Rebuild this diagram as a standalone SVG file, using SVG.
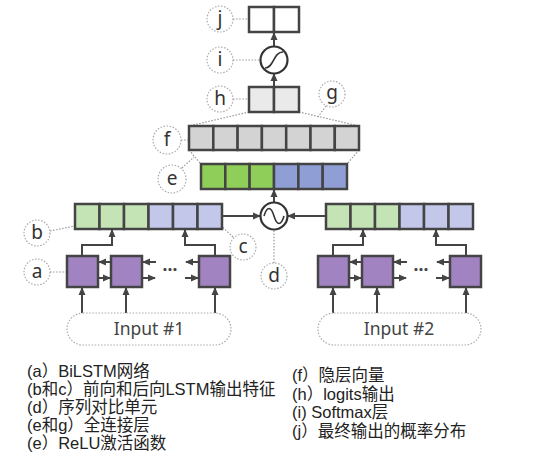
<svg xmlns="http://www.w3.org/2000/svg" width="554" height="457" viewBox="0 0 554 457">
<style>
.cell{stroke:#444;stroke-width:2.5}
.g1{fill:#c4e4b6}.b1{fill:#c3c8ea}
.g2{fill:#8fce58}.b2{fill:#8f9fd6}
.gray{fill:#d3d3d3}.lg{fill:#eaeaea}.w{fill:#fff}
.pur{fill:#a283c2;stroke:#444;stroke-width:2.5}
.con{stroke:#444;stroke-width:2;fill:none}
.lead{stroke:#999;stroke-width:1.2;stroke-dasharray:1.5 1.6;fill:none}
.lc{fill:#fff;stroke:#aaa;stroke-width:1.2;stroke-dasharray:1.5 1.6}
.lt{font-family:"Noto Sans","Liberation Sans",sans-serif;font-size:19px;fill:#333;text-anchor:middle}
.it{font-family:"Noto Sans","Liberation Sans",sans-serif;font-size:17.5px;fill:#444;text-anchor:middle}
.leg{font-family:"Liberation Sans","Noto Sans CJK SC",sans-serif;font-size:16.5px;fill:#222}
</style>
<defs>
<marker id="ah" markerUnits="userSpaceOnUse" markerWidth="8" markerHeight="8" refX="7" refY="4" orient="auto">
<path d="M0,0.5 L8,4 L0,7.5 z" fill="#444"/>
</marker>
</defs>

<g id="connectors">
<line class="con" x1="274" y1="46" x2="274" y2="33" marker-end="url(#ah)"/>
<line class="con" x1="274" y1="99" x2="274" y2="74" marker-end="url(#ah)"/>
<line class="con" x1="274" y1="203" x2="274" y2="190" marker-end="url(#ah)"/>
<line class="con" x1="222" y1="216" x2="260" y2="216" marker-end="url(#ah)"/>
<line class="con" x1="326" y1="216" x2="288" y2="216" marker-end="url(#ah)"/>
<polyline class="con" points="82,255 82,245 112,245 112,230" marker-end="url(#ah)"/>
<polyline class="con" points="215,255 215,245 185,245 185,230" marker-end="url(#ah)"/>
<polyline class="con" points="333,255 333,245 363,245 363,230" marker-end="url(#ah)"/>
<polyline class="con" points="466,255 466,245 436,245 436,230" marker-end="url(#ah)"/>
<line class="con" x1="82" y1="313" x2="82" y2="288" marker-end="url(#ah)"/>
<line class="con" x1="126" y1="313" x2="126" y2="288" marker-end="url(#ah)"/>
<line class="con" x1="215" y1="313" x2="215" y2="288" marker-end="url(#ah)"/>
<line class="con" x1="333" y1="313" x2="333" y2="288" marker-end="url(#ah)"/>
<line class="con" x1="377" y1="313" x2="377" y2="288" marker-end="url(#ah)"/>
<line class="con" x1="466" y1="313" x2="466" y2="288" marker-end="url(#ah)"/>
<line class="con" x1="111" y1="262" x2="99" y2="262" marker-end="url(#ah)"/>
<line class="con" x1="98" y1="278" x2="110" y2="278" marker-end="url(#ah)"/>
<line class="con" x1="156" y1="262" x2="143" y2="262" marker-end="url(#ah)"/>
<line class="con" x1="142" y1="278" x2="155" y2="278" marker-end="url(#ah)"/>
<line class="con" x1="199" y1="262" x2="186" y2="262" marker-end="url(#ah)"/>
<line class="con" x1="185" y1="278" x2="198" y2="278" marker-end="url(#ah)"/>
<line class="con" x1="362" y1="262" x2="350" y2="262" marker-end="url(#ah)"/>
<line class="con" x1="349" y1="278" x2="361" y2="278" marker-end="url(#ah)"/>
<line class="con" x1="407" y1="262" x2="394" y2="262" marker-end="url(#ah)"/>
<line class="con" x1="393" y1="278" x2="406" y2="278" marker-end="url(#ah)"/>
<line class="con" x1="450" y1="262" x2="437" y2="262" marker-end="url(#ah)"/>
<line class="con" x1="436" y1="278" x2="449" y2="278" marker-end="url(#ah)"/>
<line class="lead" x1="249" y1="112" x2="189" y2="126"/>
<line class="lead" x1="299" y1="112" x2="359" y2="126"/>
<line class="lead" x1="189" y1="150" x2="201" y2="164"/>
<line class="lead" x1="359" y1="150" x2="347" y2="164"/>
<line class="lead" x1="233" y1="19" x2="249" y2="19"/>
<line class="lead" x1="233" y1="60" x2="260" y2="60"/>
<line class="lead" x1="233" y1="99" x2="249" y2="99"/>
<line class="lead" x1="326" y1="106" x2="318" y2="117"/>
<line class="lead" x1="181" y1="140" x2="189" y2="140"/>
<line class="lead" x1="182" y1="168" x2="194" y2="157"/>
<line class="lead" x1="50" y1="231" x2="80" y2="225"/>
<line class="lead" x1="233" y1="237" x2="218" y2="223"/>
<line class="lead" x1="50" y1="272" x2="67" y2="272"/>
<line class="lead" x1="274" y1="263" x2="274" y2="229"/>
</g>

<g id="node-j">
<rect class="cell w" x="249" y="7" width="25" height="25"/>
<rect class="cell w" x="274" y="7" width="25" height="25"/>
</g>
<g id="node-sigmoid">
<circle cx="274" cy="60" r="13.5" fill="#fff" stroke="#333" stroke-width="2.2"/>
<path d="M265,68 C274,68 273,52 283,52" fill="none" stroke="#333" stroke-width="1.6"/>
</g>
<g id="node-h">
<rect class="cell lg" x="249" y="87" width="25" height="25"/>
<rect class="cell lg" x="274" y="87" width="25" height="25"/>
<line class="con" x1="274" y1="112" x2="274" y2="99"/>
</g>
<g id="node-f">
<rect class="cell gray" x="189" y="126" width="24.3" height="24"/>
<rect class="cell gray" x="213.3" y="126" width="24.3" height="24"/>
<rect class="cell gray" x="237.6" y="126" width="24.3" height="24"/>
<rect class="cell gray" x="261.9" y="126" width="24.3" height="24"/>
<rect class="cell gray" x="286.2" y="126" width="24.3" height="24"/>
<rect class="cell gray" x="310.5" y="126" width="24.3" height="24"/>
<rect class="cell gray" x="334.8" y="126" width="24.2" height="24"/>
</g>
<g id="node-e">
<rect class="cell g2" x="201" y="164" width="24.3" height="25"/>
<rect class="cell g2" x="225.3" y="164" width="24.3" height="25"/>
<rect class="cell g2" x="249.6" y="164" width="24.4" height="25"/>
<rect class="cell b2" x="274" y="164" width="24.4" height="25"/>
<rect class="cell b2" x="298.4" y="164" width="24.3" height="25"/>
<rect class="cell b2" x="322.7" y="164" width="24.3" height="25"/>
</g>
<g id="node-compare">
<circle cx="274" cy="216" r="13.5" fill="#fff" stroke="#333" stroke-width="2.2"/>
<path d="M264,216 C267,206 271,206 274,216 S281,226 284,216" fill="none" stroke="#333" stroke-width="1.6"/>
</g>
<g id="node-out1">
<rect class="cell g1" x="75" y="204" width="24.5" height="25"/>
<rect class="cell g1" x="99.5" y="204" width="24.5" height="25"/>
<rect class="cell g1" x="124" y="204" width="24.5" height="25"/>
<rect class="cell b1" x="148.5" y="204" width="24.5" height="25"/>
<rect class="cell b1" x="173" y="204" width="24.5" height="25"/>
<rect class="cell b1" x="197.5" y="204" width="24.5" height="25"/>
</g>
<g id="node-out2">
<rect class="cell g1" x="326" y="204" width="24.5" height="25"/>
<rect class="cell g1" x="350.5" y="204" width="24.5" height="25"/>
<rect class="cell g1" x="375" y="204" width="24.5" height="25"/>
<rect class="cell b1" x="399.5" y="204" width="24.5" height="25"/>
<rect class="cell b1" x="424" y="204" width="24.5" height="25"/>
<rect class="cell b1" x="448.5" y="204" width="24.5" height="25"/>
</g>
<g id="node-lstm1">
<rect class="pur" x="67" y="256" width="31" height="31"/>
<rect class="pur" x="111" y="256" width="31" height="31"/>
<rect class="pur" x="199" y="256" width="31" height="31"/>
<text x="170" y="276" class="it" font-weight="bold">···</text>
</g>
<g id="node-lstm2">
<rect class="pur" x="318" y="256" width="31" height="31"/>
<rect class="pur" x="362" y="256" width="31" height="31"/>
<rect class="pur" x="450" y="256" width="31" height="31"/>
<text x="421" y="276" class="it" font-weight="bold">···</text>
</g>
<g id="node-input1">
<rect x="67" y="313" width="164" height="32" rx="16" fill="#fff" stroke="#aaa" stroke-width="1.2" stroke-dasharray="1.5 1.6"/>
<text x="149" y="335" class="it">Input #1</text>
</g>
<g id="node-input2">
<rect x="318" y="313" width="163" height="32" rx="16" fill="#fff" stroke="#aaa" stroke-width="1.2" stroke-dasharray="1.5 1.6"/>
<text x="399" y="335" class="it">Input #2</text>
</g>

<g id="label-j"><circle class="lc" cx="220" cy="19" r="13"/><text class="lt" x="220" y="25">j</text></g>
<g id="label-i"><circle class="lc" cx="220" cy="60" r="13"/><text class="lt" x="220" y="66">i</text></g>
<g id="label-h"><circle class="lc" cx="220" cy="99" r="13"/><text class="lt" x="220" y="105">h</text></g>
<g id="label-g"><circle class="lc" cx="332" cy="94" r="13"/><text class="lt" x="332" y="99">g</text></g>
<g id="label-f"><circle class="lc" cx="167" cy="140" r="14"/><text class="lt" x="167" y="146">f</text></g>
<g id="label-e"><circle class="lc" cx="172" cy="179" r="14"/><text class="lt" x="172" y="185">e</text></g>
<g id="label-b"><circle class="lc" cx="37" cy="233" r="13"/><text class="lt" x="37" y="239">b</text></g>
<g id="label-c"><circle class="lc" cx="243" cy="247" r="13"/><text class="lt" x="243" y="253">c</text></g>
<g id="label-a"><circle class="lc" cx="37" cy="272" r="13"/><text class="lt" x="37" y="278">a</text></g>
<g id="label-d"><circle class="lc" cx="274" cy="276" r="13"/><text class="lt" x="274" y="282">d</text></g>

<g id="legend" class="leg">
<text x="27" y="377">(a）BiLSTM网络</text>
<text x="27" y="395">(b和c）前向和后向LSTM输出特征</text>
<text x="27" y="413">(d）序列对比单元</text>
<text x="27" y="431">(e和g）全连接层</text>
<text x="27" y="449">(e）ReLU激活函数</text>
<text x="292" y="381">(f）隐层向量</text>
<text x="292" y="399.5">(h）logits输出</text>
<text x="292" y="418">(i) Softmax层</text>
<text x="292" y="436.5">(j）最终输出的概率分布</text>
</g>
</svg>
